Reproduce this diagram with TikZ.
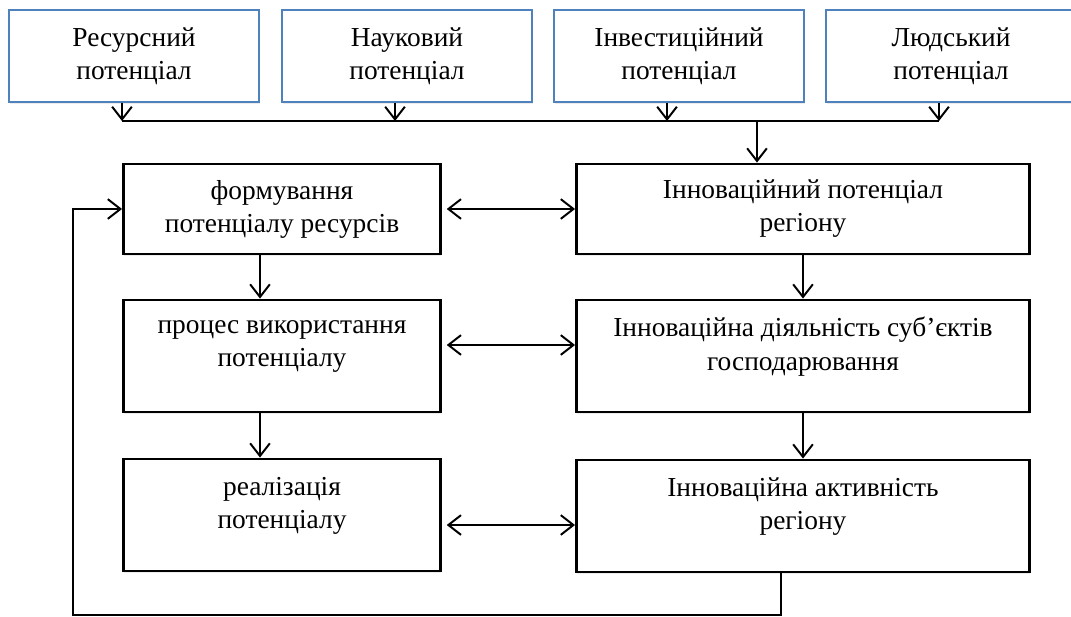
\documentclass[tikz,border=0pt]{standalone}
\usepackage{fontspec}
\setmainfont{Liberation Serif}
\usetikzlibrary{arrows.meta,shadows}
\definecolor{boxblue}{RGB}{79,129,189}
\begin{document}
\begin{tikzpicture}
[x=0.025cm,y=-0.025cm,line width=1.4pt,%
  every node/.style={shape=rectangle,align=center,inner sep=2pt,
    font=\fontsize{19.5}{23.5}\selectfont},%
  srcbox/.style={draw=boxblue,fill=white,line width=1.2pt,minimum width=6.25cm,
    minimum height=2.3cm,
    drop shadow={shadow xshift=0.6pt,shadow yshift=-1.6pt,opacity=0.15}},%
  stagebox/.style={draw,fill=white,line width=2pt,minimum width=7.925cm,
    drop shadow={shadow xshift=0.6pt,shadow yshift=-1.6pt,opacity=0.15}},%
  innbox/.style={draw,fill=white,line width=2pt,minimum width=11.325cm,
    drop shadow={shadow xshift=0.6pt,shadow yshift=-1.6pt,opacity=0.15}},%
  arr/.style={-{Straight Barb[length=9pt,width=14pt]}},%
  darr/.style={{Straight Barb[length=9pt,width=14pt]}-{Straight Barb[length=9pt,width=14pt]}}]
\useasboundingbox (0,0) rectangle (1071,617);
% sources of potential
\node[srcbox] (res) at (134,56) {Ресурсний\\потенціал};
\node[srcbox] (sci) at (407,56) {Науковий\\потенціал};
\node[srcbox] (inv) at (679,56) {Інвестиційний\\потенціал};
\node[srcbox] (hum) at (951,56) {Людський\\потенціал};
% left column
\node[stagebox,minimum height=2.25cm] (form) at (282,209) {формування\\потенціалу ресурсів};
\node[stagebox,minimum height=2.8cm] (use) at (282,356) {процес використання\\потенціалу\\[-6pt]~};
\node[stagebox,minimum height=2.8cm] (real) at (282,515) {реалізація\\потенціалу\\[-6pt]~};
% right column
\node[innbox,minimum height=2.25cm] (pot) at (803,209) {Інноваційний потенціал\\регіону};
\node[innbox,minimum height=2.8cm] (act) at (803,356) {Інноваційна діяльність суб’єктів\\господарювання\\[-6pt]~};
\node[innbox,minimum height=2.8cm] (reg) at (803,516) {Інноваційна активність\\регіону\\[-6pt]~};
% bus under the sources
\coordinate (bus) at (0,121);
\foreach \n in {res,sci,inv,hum}
  \draw[arr] ([xshift=-0.3cm]\n.south) -- ([xshift=-0.3cm]\n.south |- bus);
\draw ([xshift=-0.3cm]res.south |- bus) -- ([xshift=-0.3cm]hum.south |- bus);
\draw[arr] ([xshift=-1.15cm]pot.north |- bus) -- ([xshift=-1.15cm]pot.north);
% columns
\draw[arr] ([xshift=-0.55cm]form.south) -- ([xshift=-0.55cm]use.north);
\draw[arr] ([xshift=-0.55cm]use.south) -- ([xshift=-0.55cm]real.north);
\draw[arr] (pot.south) -- (act.north);
\draw[arr] (act.south) -- (reg.north);
% links between columns
\draw[darr,shorten <=0.12cm] (form.east) -- (pot.west);
\draw[darr,shorten <=0.12cm] ([yshift=0.275cm]use.east) -- ([yshift=0.275cm]use.east -| act.west);
\draw[darr,shorten <=0.12cm] ([yshift=-0.25cm]real.east) -- ([yshift=-0.25cm]real.east -| reg.west);
% feedback
\coordinate (fb) at (73,615);
\draw[arr] ([xshift=-0.56cm]reg.south) |- (fb) |- (form.west);
\end{tikzpicture}
\end{document}
